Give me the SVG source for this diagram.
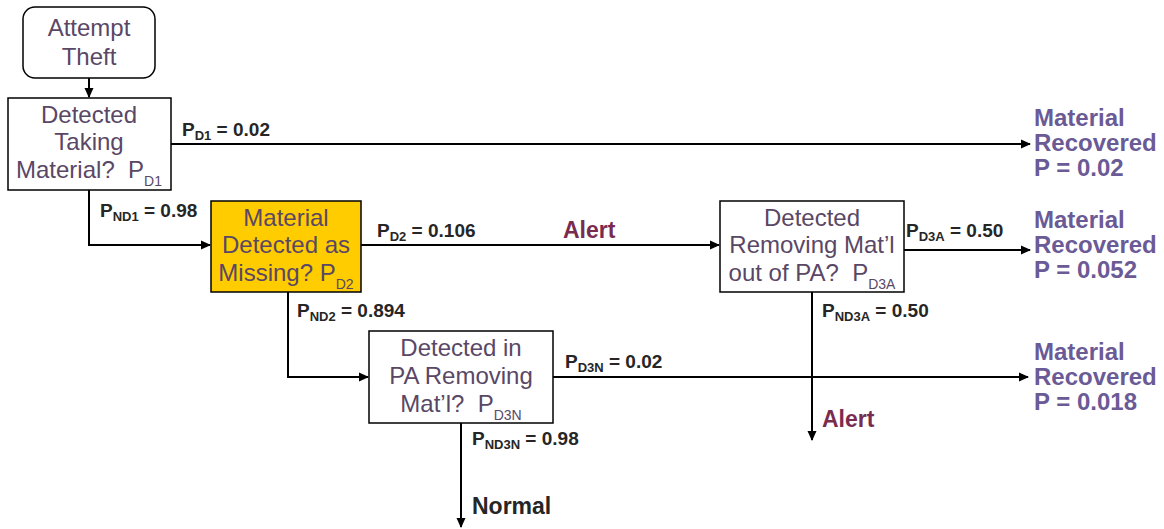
<svg xmlns="http://www.w3.org/2000/svg" width="1164" height="529" viewBox="0 0 1164 529">
<style>
.box{fill:#fff;stroke:#000;stroke-width:1.5}
.bt{font-family:"Liberation Sans",Arial,sans-serif;font-size:24px;fill:#5a4766;text-anchor:middle}
.sub{font-size:14px}
.lb{font-family:"Liberation Sans",Arial,sans-serif;font-size:19px;font-weight:bold;fill:#262626}
.ls{font-size:13px}
.mr{font-family:"Liberation Sans",Arial,sans-serif;font-size:24px;font-weight:bold;fill:#6a5a96}
.al{font-family:"Liberation Sans",Arial,sans-serif;font-size:23px;font-weight:bold;fill:#7a2c50}
.c{fill:none;stroke:#000;stroke-width:2;marker-end:url(#ah)}
</style>
<defs>
<marker id="ah" markerWidth="10" markerHeight="10" refX="9" refY="5" orient="auto" markerUnits="userSpaceOnUse">
<path d="M0,0.5 L10,5 L0,9.5 z" fill="#000"/>
</marker>
</defs>
<rect width="1164" height="529" fill="#fff"/>
<g id="connectors">
<path class="c" d="M89,78 V97"/>
<path class="c" d="M171,144 H1030"/>
<path class="c" d="M89,190 V245 H210"/>
<path class="c" d="M361,245 H719"/>
<path class="c" d="M904,250 H1030"/>
<path class="c" d="M812,292 V440"/>
<path class="c" d="M288,292 V377 H368"/>
<path class="c" d="M553,377 H1028"/>
<path class="c" d="M461,423 V527"/>
</g>
<g id="attempt">
<rect class="box" x="23" y="7" width="132" height="71" rx="12"/>
<text class="bt" x="89" y="36">Attempt</text>
<text class="bt" x="89" y="65">Theft</text>
</g>
<g id="detected-taking">
<rect class="box" x="8" y="98" width="163" height="92"/>
<text class="bt" x="89" y="123">Detected</text>
<text class="bt" x="89" y="150">Taking</text>
<text class="bt" x="89" y="178">Material?&#160; P<tspan class="sub" dy="8">D1</tspan></text>
</g>
<g id="detected-missing">
<rect x="211" y="201" width="150" height="91" fill="#ffcc00" stroke="#000" stroke-width="1.5"/>
<text class="bt" x="286" y="226">Material</text>
<text class="bt" x="286" y="253">Detected as</text>
<text class="bt" x="286" y="281">Missing? P<tspan class="sub" dy="8">D2</tspan></text>
</g>
<g id="detected-removing-out">
<rect class="box" x="720" y="201" width="184" height="91"/>
<text class="bt" x="812" y="226">Detected</text>
<text class="bt" x="812" y="253">Removing Mat’l</text>
<text class="bt" x="812" y="281">out of PA?&#160; P<tspan class="sub" dy="8">D3A</tspan></text>
</g>
<g id="detected-in-pa">
<rect class="box" x="369" y="331" width="184" height="92"/>
<text class="bt" x="461" y="356">Detected in</text>
<text class="bt" x="461" y="384">PA Removing</text>
<text class="bt" x="461" y="412">Mat’l?&#160; P<tspan class="sub" dy="8">D3N</tspan></text>
</g>
<g id="labels">
<text class="lb" x="182" y="136">P<tspan class="ls" dy="4">D1</tspan><tspan dy="-4"> = 0.02</tspan></text>
<text class="lb" x="100" y="217">P<tspan class="ls" dy="4">ND1</tspan><tspan dy="-4"> = 0.98</tspan></text>
<text class="lb" x="377" y="237">P<tspan class="ls" dy="4">D2</tspan><tspan dy="-4"> = 0.106</tspan></text>
<text class="al" x="563" y="238">Alert</text>
<text class="lb" x="906" y="237">P<tspan class="ls" dy="4">D3A</tspan><tspan dy="-4"> = 0.50</tspan></text>
<text class="lb" x="297" y="317">P<tspan class="ls" dy="4">ND2</tspan><tspan dy="-4"> = 0.894</tspan></text>
<text class="lb" x="822" y="317">P<tspan class="ls" dy="4">ND3A</tspan><tspan dy="-4"> = 0.50</tspan></text>
<text class="lb" x="565" y="368">P<tspan class="ls" dy="4">D3N</tspan><tspan dy="-4"> = 0.02</tspan></text>
<text class="lb" x="472" y="445">P<tspan class="ls" dy="4">ND3N</tspan><tspan dy="-4"> = 0.98</tspan></text>
<text class="al" x="822" y="427">Alert</text>
<text class="lb" x="472" y="514" style="font-size:23px">Normal</text>
</g>
<g id="outcome-1">
<text class="mr" x="1034" y="126">Material</text>
<text class="mr" x="1034" y="151">Recovered</text>
<text class="mr" x="1034" y="176">P = 0.02</text>
</g>
<g id="outcome-2">
<text class="mr" x="1034" y="228">Material</text>
<text class="mr" x="1034" y="253">Recovered</text>
<text class="mr" x="1034" y="278">P = 0.052</text>
</g>
<g id="outcome-3">
<text class="mr" x="1034" y="360">Material</text>
<text class="mr" x="1034" y="385">Recovered</text>
<text class="mr" x="1034" y="410">P = 0.018</text>
</g>
</svg>
